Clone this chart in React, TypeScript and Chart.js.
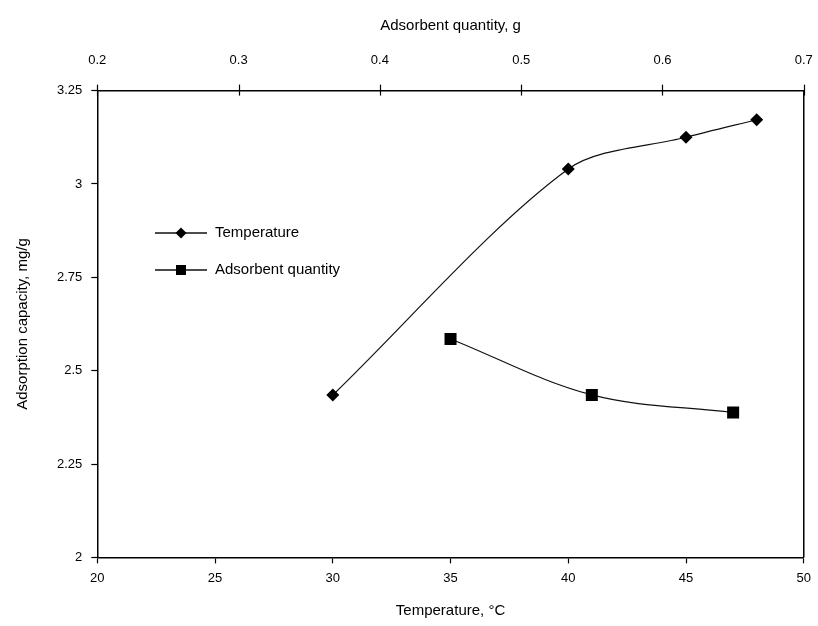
import React, { useEffect, useRef } from "react";
import { Chart, registerables } from "chart.js";

Chart.register(...registerables);

const tempX = [30, 40, 45, 48];
const tempY = [2.435, 3.04, 3.125, 3.172];
const qtyX = [0.45, 0.55, 0.65];
const qtyY = [2.585, 2.435, 2.388];

const xTitle = "Temperature, °C";
const x2Title = "Adsorbent quantity, g";
const yTitle = "Adsorption capacity, mg/g";
const seriesNames = ["Temperature", "Adsorbent quantity"];

const FONT = "'Liberation Sans', Arial, sans-serif";
const INK = "#000";

const fmt = (v: any) => String(Number(Number(v).toFixed(2)));

const framePlugin = {
  id: "frame",
  afterDraw(chart: any) {
    const { ctx, chartArea } = chart;
    ctx.save();
    ctx.strokeStyle = INK;
    ctx.lineWidth = 1.5;
    ctx.beginPath();
    ctx.moveTo(chartArea.right, chartArea.top);
    ctx.lineTo(chartArea.right, chartArea.bottom);
    ctx.stroke();
    // top axis ticks crossing the frame
    const s = chart.scales.x2;
    ctx.lineWidth = 1.2;
    s.ticks.forEach((t: any) => {
      const px = Math.round(s.getPixelForValue(t.value)) + 0.5;
      ctx.beginPath();
      ctx.moveTo(px, chartArea.top - 6);
      ctx.lineTo(px, chartArea.top + 5);
      ctx.stroke();
    });
    // legend
    const ds = chart.data.datasets;
    const rows = [233, 270];
    ds.forEach((d: any, i: number) => {
      const y = rows[i];
      ctx.strokeStyle = "#111";
      ctx.lineWidth = 1.3;
      ctx.beginPath();
      ctx.moveTo(155, y);
      ctx.lineTo(207, y);
      ctx.stroke();
      ctx.fillStyle = INK;
      ctx.beginPath();
      if (d.pointStyle === "rectRot") {
        const r = 5.5;
        ctx.moveTo(181 - r, y);
        ctx.lineTo(181, y - r);
        ctx.lineTo(181 + r, y);
        ctx.lineTo(181, y + r);
        ctx.closePath();
      } else {
        ctx.rect(181 - 5, y - 5, 10, 10);
      }
      ctx.fill();
      ctx.font = `15px ${FONT}`;
      ctx.textAlign = "left";
      ctx.textBaseline = "middle";
      ctx.fillText(d.label, 215, y);
    });
    ctx.restore();
  },
};

export default function App() {
  const ref = useRef<HTMLCanvasElement | null>(null);
  useEffect(() => {
    if (!ref.current) return;
    const tickFont = { family: FONT, size: 13 };
    const titleFont = { family: FONT, size: 15 };
    const chart = new Chart(ref.current, {
      type: "line",
      data: {
        datasets: [
          {
            label: seriesNames[0],
            data: tempX.map((x, i) => ({ x, y: tempY[i] })),
            xAxisID: "x",
            yAxisID: "y",
            borderColor: "#111",
            borderWidth: 1.2,
            backgroundColor: INK,
            pointStyle: "rectRot",
            pointRadius: 6.5,
            pointBorderWidth: 0,
            tension: 0.3,
            fill: false,
          },
          {
            label: seriesNames[1],
            data: qtyX.map((x, i) => ({ x, y: qtyY[i] })),
            xAxisID: "x2",
            yAxisID: "y",
            borderColor: "#111",
            borderWidth: 1.2,
            backgroundColor: INK,
            pointStyle: "rect",
            pointRadius: 8.5,
            pointBorderWidth: 0,
            tension: 0.35,
            fill: false,
          },
        ],
      },
      options: {
        animation: false,
        responsive: true,
        maintainAspectRatio: false,
        layout: { padding: { left: 14, right: 0, top: 17, bottom: 6 } },
        plugins: { legend: { display: false }, tooltip: { enabled: false } },
        scales: {
          x: {
            type: "linear",
            position: "bottom",
            min: 20,
            max: 50,
            ticks: { stepSize: 5, font: tickFont, color: INK, padding: 7, callback: fmt },
            grid: { drawOnChartArea: false, color: INK, tickLength: 6, tickWidth: 1.2 },
            border: { color: INK, width: 1.5 },
            title: { display: true, text: xTitle, font: titleFont, color: INK, padding: { top: 9, bottom: 0 } },
          },
          x2: {
            type: "linear",
            position: "top",
            min: 0.2,
            max: 0.7,
            ticks: { stepSize: 0.1, font: tickFont, color: INK, padding: 2, callback: fmt },
            grid: { drawOnChartArea: false, color: "rgba(0,0,0,0)", tickLength: 20 },
            border: { color: INK, width: 1.5 },
            title: { display: true, text: x2Title, font: titleFont, color: INK, padding: { top: 0, bottom: 16 } },
          },
          y: {
            type: "linear",
            min: 2,
            max: 3.25,
            ticks: { stepSize: 0.25, font: tickFont, color: INK, padding: 9, callback: fmt },
            grid: { drawOnChartArea: false, color: INK, tickLength: 6, tickWidth: 1.2 },
            border: { color: INK, width: 1.5 },
            title: { display: true, text: yTitle, font: titleFont, color: INK, padding: { top: 0, bottom: 16 } },
          },
        },
      },
      plugins: [framePlugin],
    } as any);
    return () => chart.destroy();
  }, []);
  return (
    <div style={{ position: "absolute", left: 0, top: 0, width: 818, height: 626, background: "#fff" }}>
      <canvas ref={ref} />
    </div>
  );
}
